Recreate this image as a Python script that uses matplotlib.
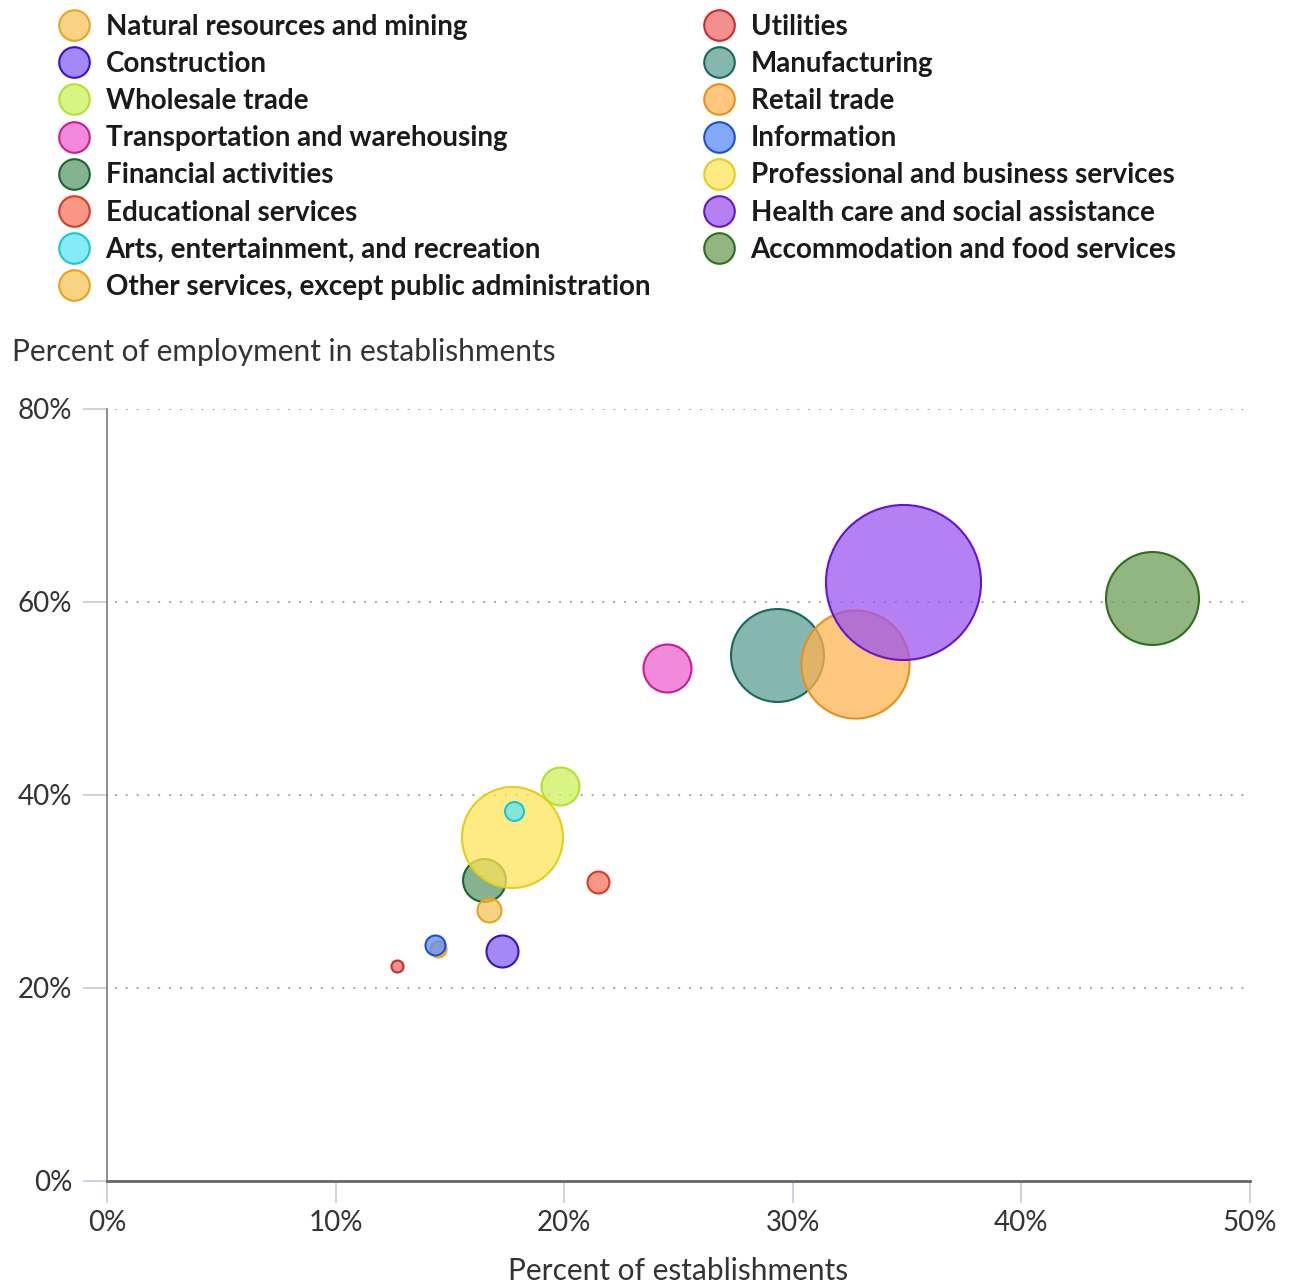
import matplotlib.pyplot as plt
from matplotlib.lines import Line2D
from matplotlib.colors import to_rgba
import matplotlib.ticker as mticker

plt.rcParams['font.family'] = ['Lato', 'DejaVu Sans']

# industries in legend order (row-wise)
industries = [
    'Natural resources and mining', 'Utilities',
    'Construction', 'Manufacturing',
    'Wholesale trade', 'Retail trade',
    'Transportation and warehousing', 'Information',
    'Financial activities', 'Professional and business services',
    'Educational services', 'Health care and social assistance',
    'Arts, entertainment, and recreation', 'Accommodation and food services',
    'Other services, except public administration',
]
# percent of establishments
pct_estab = [14.5, 12.7, 17.3, 29.3, 19.8, 32.7, 24.5, 14.35,
             16.5, 17.7, 21.5, 34.8, 17.8, 45.7, 16.7]
# percent of employment in establishments
pct_employ = [24.0, 22.3, 23.8, 54.5, 40.9, 53.6, 53.2, 24.5,
              31.2, 35.6, 31.0, 62.1, 38.3, 60.4, 28.1]
# relative bubble size (area)
bubble = [0.64, 0.36, 2.56, 21.6, 3.6, 29.2, 5.76, 1.0,
          4.6, 25.5, 1.2, 60.1, 0.9, 21.6, 1.44]

face = ['#f7c35c', '#ee6a6a', '#8462f2', '#5c9e94', '#c9f25a', '#ffb352',
        '#ee63cf', '#5a8cf6', '#5a9a6c', '#ffe55a', '#f8735e', '#9c55ee',
        '#5ce5f2', '#6e9e58', '#f9c35a']
edge = ['#e8a520', '#cc2a2a', '#3a10cc', '#16695e', '#b4e030', '#e8901e',
        '#cc1c94', '#1c4fd8', '#19662e', '#e8cc1c', '#d63c22', '#6416cc',
        '#1cc4d8', '#2e6e1c', '#e8a21c']

fig = plt.figure(figsize=(12.9, 12.88), dpi=100)
ax = fig.add_axes([0.0829, 0.0831, 0.969 - 0.0829, 0.6825 - 0.0831])

for i in range(len(industries)):
    ax.scatter(pct_estab[i], pct_employ[i], s=bubble[i] * 207.36,
               facecolor=to_rgba(face[i], 0.75), edgecolor=edge[i],
               linewidth=1.5, zorder=3 + i)

ax.set_xlim(0, 50)
ax.set_ylim(0, 80)
ax.set_xticks(range(0, 51, 10))
ax.set_yticks(range(0, 81, 20))
ax.xaxis.set_major_formatter(mticker.FuncFormatter(lambda v, p: f'{v:.0f}%'))
ax.yaxis.set_major_formatter(mticker.FuncFormatter(lambda v, p: f'{v:.0f}%'))
ax.tick_params(axis='y', length=17, width=1.2, color='#c3cbd9',
               labelsize=20, labelcolor='#333333', pad=8)
ax.tick_params(axis='x', length=16, width=1.2, color='#c3cbd9',
               labelsize=20, labelcolor='#333333', pad=5)

for yv in [20, 40, 60, 80]:
    ax.axhline(yv, xmin=0.007, xmax=0.995, color='#999999', lw=1.3,
               linestyle=(0, (1, 5)), zorder=1)

for s in ['top', 'right']:
    ax.spines[s].set_visible(False)
ax.spines['left'].set_color('#7a7a7a')
ax.spines['left'].set_linewidth(1.2)
ax.spines['bottom'].set_color('#666666')
ax.spines['bottom'].set_linewidth(2)

ax.set_xlabel('Percent of establishments', fontsize=21.5, color='#333333', labelpad=15)
fig.text(12 / 1290, 1 - 352 / 1288, 'Percent of employment in establishments',
         fontsize=21.5, color='#333333', va='center', ha='left')

# legend: two columns, each placed on its own
def make_handle(i):
    return Line2D([], [], marker='o', linestyle='none', markersize=22,
                  markerfacecolor=to_rgba(face[i], 0.75), markeredgecolor=edge[i],
                  markeredgewidth=1.5)

legend_kw = dict(loc='upper left', frameon=False, handlelength=1.2,
                 handletextpad=0.55, labelspacing=0.40, borderaxespad=0,
                 borderpad=0, prop={'weight': 'bold', 'size': 20})
for col, x0 in [(0, 57), (1, 702)]:
    idx = list(range(col, 15, 2))
    leg = fig.legend([make_handle(i) for i in idx], [industries[i] for i in idx],
                     bbox_to_anchor=(x0 / 1290, 1 - 14 / 1288), **legend_kw)
    for t in leg.get_texts():
        t.set_color('#1a1a1a')

fig.savefig('out.png', dpi=100)
